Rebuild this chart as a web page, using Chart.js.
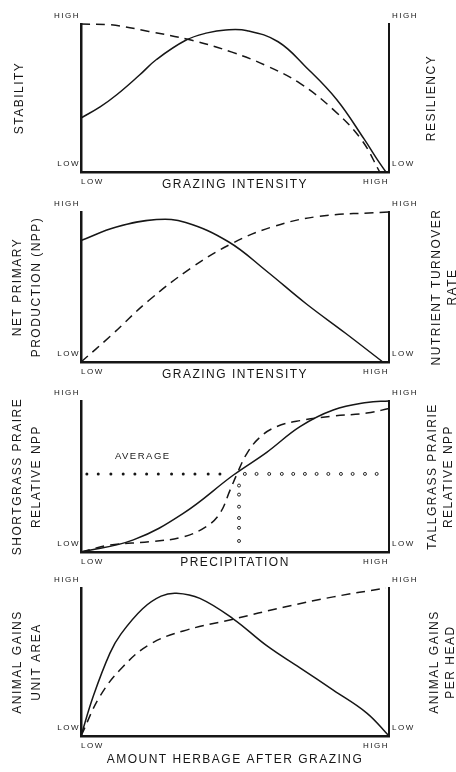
<!doctype html>
<html>
<head>
<meta charset="UTF-8">
<title>Grazing response curves</title>
<script src="https://cdn.jsdelivr.net/npm/chart.js@4.4.0/dist/chart.umd.min.js"></script>
<style>
body { margin: 0; background: #fff; }
#wrap { position: relative; width: 456px; height: 772px; overflow: hidden; }
canvas { position: absolute; left: 0; }
</style>
</head>
<body>
<div id="wrap">
  <canvas id="c1"></canvas>
  <canvas id="c2"></canvas>
  <canvas id="c3"></canvas>
  <canvas id="c4"></canvas>
</div>

<script>
// tick labels (same on every panel)
var yTickLabels = ['LOW', 'HIGH'];
var xTickLabels = ['LOW', 'HIGH'];

// panel 1 - grazing intensity vs stability / resiliency
var stabilityX = [0, 0.062, 0.115, 0.19, 0.245, 0.34, 0.41, 0.47, 0.54, 0.64, 0.73, 0.83, 0.92, 0.96, 0.99];
var stabilityY = [0.365, 0.44, 0.52, 0.655, 0.76, 0.89, 0.94, 0.96, 0.955, 0.88, 0.71, 0.49, 0.22, 0.09, 0];
var resilX = [0, 0.094, 0.22, 0.36, 0.49, 0.6, 0.71, 0.82, 0.91, 0.97];
var resilY = [1, 0.995, 0.95, 0.89, 0.81, 0.72, 0.6, 0.42, 0.22, 0];

// panel 2 - grazing intensity vs NPP / nutrient turnover
var nppX = [0, 0.115, 0.245, 0.34, 0.48, 0.6, 0.73, 0.86, 0.98];
var nppY = [0.81, 0.9, 0.95, 0.93, 0.8, 0.61, 0.39, 0.19, 0];
var turnX = [0, 0.094, 0.22, 0.36, 0.49, 0.62, 0.77, 1];
var turnY = [0, 0.17, 0.41, 0.63, 0.79, 0.9, 0.97, 1];

// panel 3 - precipitation vs relative NPP
var shortX = [0, 0.17, 0.332, 0.495, 0.603, 0.711, 0.819, 0.928, 1];
var shortY = [0, 0.08, 0.256, 0.51, 0.66, 0.83, 0.94, 0.99, 1];
var tallX = [0, 0.094, 0.224, 0.332, 0.408, 0.451, 0.484, 0.505, 0.538, 0.581, 0.635, 0.711, 0.819, 0.928, 1];
var tallY = [0, 0.046, 0.068, 0.1, 0.17, 0.256, 0.41, 0.51, 0.65, 0.76, 0.83, 0.87, 0.9, 0.92, 0.95];
var avgLeftX = [0.019, 0.056, 0.097, 0.137, 0.175, 0.213, 0.251, 0.294, 0.332, 0.370, 0.413, 0.451];
var avgRightX = [0.532, 0.570, 0.611, 0.652, 0.689, 0.727, 0.765, 0.803, 0.844, 0.882, 0.922, 0.960];
var avgLevel = 0.517;
var avgDownX = 0.513;
var avgDownY = [0.44, 0.38, 0.30, 0.225, 0.16, 0.073];

// panel 4 - herbage after grazing vs animal gains
var areaX = [0, 0.04, 0.094, 0.13, 0.2, 0.26, 0.31, 0.386, 0.495, 0.603, 0.711, 0.819, 0.928, 1];
var areaY = [0, 0.27, 0.56, 0.69, 0.86, 0.945, 0.965, 0.93, 0.79, 0.61, 0.46, 0.31, 0.155, 0];
var headX = [0, 0.062, 0.137, 0.224, 0.332, 0.495, 0.657, 0.819, 0.99];
var headY = [0, 0.27, 0.47, 0.62, 0.71, 0.79, 0.87, 0.94, 1];

var ink = '#161616';
var fam = '"Liberation Sans", Arial, sans-serif';
Chart.defaults.font.family = fam;
Chart.defaults.color = ink;

function pts(xs, ys) {
    var out = [];
    for (var i = 0; i < xs.length; i++) out.push({x: xs[i], y: ys[i]});
    return out;
}

function curve(xs, ys, dashed) {
    return {
        data: pts(xs, ys),
        showLine: true,
        borderColor: ink,
        borderWidth: 1.5,
        borderDash: dashed ? [9, 6] : [],
        pointRadius: 0,
        tension: 0.4,
        clip: 6
    };
}

function dots(data, open) {
    return {
        data: data,
        showLine: false,
        pointRadius: 1.5,
        pointBorderWidth: open ? 0.9 : 0,
        pointBackgroundColor: open ? '#fff' : ink,
        pointBorderColor: ink,
        clip: 6
    };
}

// sets letter spacing on the canvas + draws right-hand titles that read upward
var sidePlugin = {
    id: 'side',
    beforeDraw: function (chart) {
        chart.ctx.letterSpacing = '1.5px';
    },
    afterDraw: function (chart, args, opts) {
        var ctx = chart.ctx, a = chart.chartArea;
        ctx.save();
        ctx.fillStyle = ink;
        ctx.font = '12px ' + fam;
        ctx.textAlign = 'center';
        ctx.textBaseline = 'middle';
        for (var i = 0; i < opts.lines.length; i++) {
            ctx.save();
            ctx.translate(opts.x + i * 16, (a.top + a.bottom) / 2);
            ctx.rotate(-Math.PI / 2);
            ctx.fillText(opts.lines[i], 0, 0);
            ctx.restore();
        }
        if (opts.note) {
            ctx.font = '9.5px ' + fam;
            ctx.textAlign = 'left';
            ctx.fillText(opts.note.text,
                chart.scales.x.getPixelForValue(opts.note.x),
                chart.scales.y.getPixelForValue(opts.note.y));
        }
        ctx.restore();
    }
};

function makePanel(id, p) {
    var cv = document.getElementById(id);
    var h = p.titleY + 8 - p.top;
    cv.width = 456;
    cv.height = h;
    cv.style.top = p.top + 'px';
    var tickFont = {size: 8};
    new Chart(cv, {
        type: 'scatter',
        data: {datasets: p.datasets},
        plugins: [sidePlugin],
        options: {
            responsive: false,
            animation: false,
            layout: {padding: {top: p.areaTop - p.top, bottom: 0, left: 0, right: 0}},
            plugins: {
                legend: {display: false},
                tooltip: {enabled: false},
                side: {lines: p.right, x: p.rightX, note: p.note}
            },
            scales: {
                x: {
                    type: 'linear', min: 0, max: 1,
                    grid: {display: false, drawTicks: false},
                    border: {display: true, color: ink, width: 2.5},
                    ticks: {
                        stepSize: 1, align: 'inner', padding: 5, font: tickFont,
                        callback: function (v) { return v === 0 ? xTickLabels[0] : (v === 1 ? xTickLabels[1] : ''); }
                    },
                    title: {display: true, text: p.xTitle, font: {size: 12}, padding: {top: 0, bottom: 1}},
                    afterFit: function (s) { s.height = p.titleY + 8 - p.areaBottom; }
                },
                y: {
                    type: 'linear', min: 0, max: 1, position: 'left',
                    grid: {display: false, drawTicks: false},
                    border: {display: true, color: ink, width: 2.5},
                    ticks: {
                        stepSize: 1, padding: 1, labelOffset: -8, font: tickFont,
                        callback: function (v) { return v === 0 ? yTickLabels[0] : (v === 1 ? yTickLabels[1] : ''); }
                    },
                    title: {display: true, text: p.left, font: {size: 12, lineHeight: 1.6}, padding: {top: p.left.length > 1 ? 8 : 10, bottom: 0}},
                    afterFit: function (s) { s.width = 81; }
                },
                y2: {
                    type: 'linear', min: 0, max: 1, position: 'right', display: true,
                    grid: {display: false, drawTicks: false},
                    border: {display: true, color: ink, width: 2, dash: [10, 4]},
                    ticks: {
                        stepSize: 1, padding: 3, labelOffset: -8, font: tickFont,
                        callback: function (v) { return v === 0 ? yTickLabels[0] : (v === 1 ? yTickLabels[1] : ''); }
                    },
                    afterFit: function (s) { s.width = 67; }
                }
            }
        }
    });
}

var avgRow = [];
for (var i = 0; i < avgRightX.length; i++) avgRow.push({x: avgRightX[i], y: avgLevel});
var avgRowL = [];
for (var j = 0; j < avgLeftX.length; j++) avgRowL.push({x: avgLeftX[j], y: avgLevel});
var avgCol = [];
for (var k = 0; k < avgDownY.length; k++) avgCol.push({x: avgDownX, y: avgDownY[k]});

makePanel('c1', {
    top: 0, areaTop: 24, areaBottom: 172, titleY: 185,
    xTitle: 'GRAZING INTENSITY', left: ['STABILITY'], right: ['RESILIENCY'], rightX: 432,
    datasets: [curve(stabilityX, stabilityY, false), curve(resilX, resilY, true)]
});
makePanel('c2', {
    top: 193, areaTop: 212, areaBottom: 362, titleY: 375,
    xTitle: 'GRAZING INTENSITY', left: ['NET PRIMARY', 'PRODUCTION (NPP)'],
    right: ['NUTRIENT TURNOVER', 'RATE'], rightX: 437,
    datasets: [curve(nppX, nppY, false), curve(turnX, turnY, true)]
});
makePanel('c3', {
    top: 383, areaTop: 401, areaBottom: 552, titleY: 563,
    xTitle: 'PRECIPITATION', left: ['SHORTGRASS PRAIRE', 'RELATIVE NPP'],
    right: ['TALLGRASS PRAIRIE', 'RELATIVE NPP'], rightX: 433,
    note: {text: 'AVERAGE', x: 0.11, y: 0.63},
    datasets: [curve(shortX, shortY, false), curve(tallX, tallY, true),
        dots(avgRowL, false), dots(avgRow, true), dots(avgCol, true)]
});
makePanel('c4', {
    top: 571, areaTop: 588, areaBottom: 736, titleY: 760,
    xTitle: 'AMOUNT HERBAGE AFTER GRAZING', left: ['ANIMAL GAINS', 'UNIT AREA'],
    right: ['ANIMAL GAINS', 'PER HEAD'], rightX: 435,
    datasets: [curve(areaX, areaY, false), curve(headX, headY, true)]
});
</script>
</body>
</html>
